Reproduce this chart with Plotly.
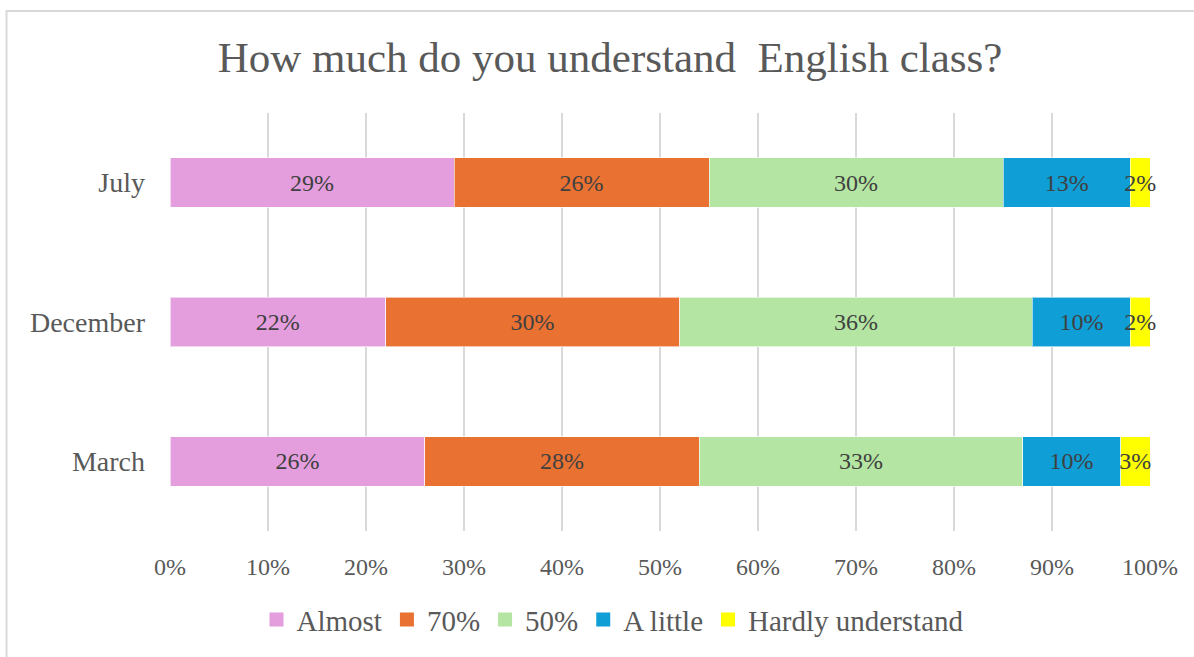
import plotly.graph_objects as go

# Survey months, bottom to top
months = ["March", "December", "July"]

# Share of answers (%) per month, in the same order as `months`
almost = [26, 22, 29]
seventy = [28, 30, 26]
fifty = [33, 36, 30]
a_little = [10, 10, 13]
hardly = [3, 2, 2]

series_names = ["Almost", "70%", "50%", "A little", "Hardly understand"]
series_values = [almost, seventy, fifty, a_little, hardly]
series_colors = ["#E49EDD", "#E97132", "#B4E5A2", "#0F9ED5", "#FFFF00"]

tick_vals = [0, 10, 20, 30, 40, 50, 60, 70, 80, 90, 100]
tick_text = [f"{v}%" for v in tick_vals]

SERIF = "Liberation Serif"

fig = go.Figure()
for name, vals, color in zip(series_names, series_values, series_colors):
    fig.add_trace(go.Bar(
        y=months,
        x=vals,
        name=name,
        legendgroup=name,
        showlegend=False,
        orientation="h",
        marker=dict(color=color, line=dict(color="rgba(255,255,255,0.6)", width=1)),
        text=[f"{v}%" for v in vals],
        textposition="inside",
        insidetextanchor="middle",
        textangle=0,
        constraintext="none",
        textfont=dict(family=SERIF, size=24, color="#404040"),
        cliponaxis=False,
        hoverinfo="skip",
    ))

# Square legend keys, one per series
for name, color in zip(series_names, series_colors):
    fig.add_trace(go.Scatter(
        x=[None],
        y=[None],
        mode="markers",
        name=name,
        legendgroup=name,
        marker=dict(symbol="square", size=14, color=color),
        hoverinfo="skip",
    ))

W, H = 1194, 657
L, R, T, B = 170, 44, 113, 120
pw, ph = W - L - R, H - T - B

def px_to_paper_x(px):
    return (px - L) / pw

def px_to_paper_y(py):
    return (H - B - py) / ph

fig.update_layout(
    width=W,
    height=H,
    margin=dict(l=L, r=R, t=T, b=B),
    barmode="stack",
    bargap=0.645,
    paper_bgcolor="white",
    plot_bgcolor="white",
    title=dict(
        text="How much do you understand&nbsp; English class?",
        font=dict(family=SERIF, size=43, color="#595959"),
        x=610 / W,
        xanchor="center",
        xref="container",
        y=1 - 57 / H,
        yanchor="middle",
        yref="container",
    ),
    xaxis=dict(
        range=[0, 100],
        tickvals=tick_vals,
        ticktext=tick_text,
        showgrid=True,
        gridcolor="#D9D9D9",
        gridwidth=2,
        zeroline=False,
        showline=False,
        ticks="",
        ticklabelstandoff=19,
        tickfont=dict(family=SERIF, size=24, color="#595959"),
        fixedrange=True,
    ),
    yaxis=dict(
        categoryorder="array",
        categoryarray=months,
        showgrid=False,
        zeroline=False,
        showline=False,
        ticks="",
        ticklabelstandoff=24,
        tickfont=dict(family=SERIF, size=28, color="#595959"),
        fixedrange=True,
    ),
    legend=dict(
        orientation="h",
        x=px_to_paper_x(613),
        xanchor="center",
        y=px_to_paper_y(627),
        yanchor="middle",
        font=dict(family=SERIF, size=29, color="#595959"),
        traceorder="normal",
        bgcolor="rgba(0,0,0,0)",
        itemclick=False,
        itemdoubleclick=False,
    ),
    showlegend=True,
    shapes=[
        dict(
            type="rect",
            xref="paper",
            yref="paper",
            x0=px_to_paper_x(6.5),
            x1=px_to_paper_x(W + 20),
            y0=px_to_paper_y(H + 20),
            y1=px_to_paper_y(9.5),
            line=dict(color="#D9D9D9", width=2),
            fillcolor="rgba(0,0,0,0)",
            layer="below",
        )
    ],
)

fig.write_html("out.html", config={"displayModeBar": False})
